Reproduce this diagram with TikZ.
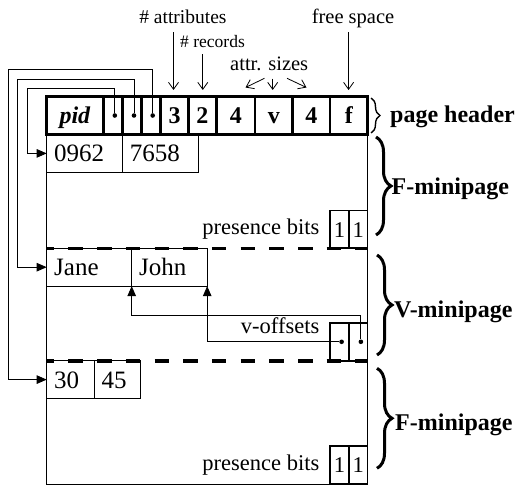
\documentclass[tikz,border=0pt]{standalone}
\usepackage{fontspec}
\setmainfont{Liberation Serif}
\usetikzlibrary{arrows.meta,decorations.pathreplacing}
\begin{document}
\begin{tikzpicture}[x=1pt,y=-1pt,
  box/.style={draw, inner sep=0pt, outer sep=0pt, anchor=north west},
  hcell/.style={box, line width=2.6pt, minimum height=38pt,
    font=\fontsize{24}{28}\selectfont\bfseries, text height=16pt, text depth=0pt},
  rec/.style={box, line width=0.9pt, minimum height=37.8pt, inner xsep=7.5pt,
    align=left, font=\fontsize{25}{30}\selectfont, text height=17pt, text depth=0pt},
  bitcell/.style={box, line width=1.7pt, minimum width=18.8pt, minimum height=37.8pt,
    font=\fontsize{22.5}{27}\selectfont, text height=15.5pt, text depth=0pt},
  dot/.style={circle, fill, inner sep=0pt, minimum size=4.6pt},
  note/.style={inner sep=0pt, font=\fontsize{22.5}{27}\selectfont, anchor=base east},
  toplbl/.style={inner sep=0pt, anchor=base},
  side/.style={inner sep=0pt, anchor=base west, font=\fontsize{24}{28}\selectfont\bfseries},
  ptr/.style={line width=0.9pt, -{Triangle[length=10pt,width=8.5pt]}},
  lblarrow/.style={line width=0.8pt, -{Straight Barb[length=7pt,width=10pt]}},
  dline/.style={line width=3.6pt, dash pattern=on 14.5pt off 14.2pt, dash phase=7pt},
  bigbrace/.style={decorate, decoration={brace, amplitude=15pt}, line width=3pt},
  smallbrace/.style={decorate, decoration={brace, amplitude=9pt}, line width=1.4pt}]
\useasboundingbox (0,0) rectangle (531,495);

% page body
\node[box, line width=0.9pt, minimum width=321pt, minimum height=349.5pt] (body) at (46.7,134.5) {};

% records
\node[rec, text width=60.6pt] (r0962) at (46.7,134.5) {0962};
\node[rec, text width=60.7pt] (r7658) at (122.3,134.5) {7658};
\node[rec, text width=70pt] (jane) at (46.7,248.3) {Jane};
\node[rec, text width=60.5pt] (john) at (131.7,248.3) {John};
\node[rec, text width=32.3pt] (r30) at (46.7,360.7) {30};
\node[rec, text width=31.7pt] (r45) at (94,360.7) {45};

% dashed separators
\draw[dline] (body.west |- jane.north) -- (body.east |- jane.north);
\draw[dline] (body.west |- r30.north) -- (body.east |- r30.north);

% page header
\node[hcell, minimum width=56.6pt] (pid) at (46.7,96.5) {\textit{pid}};
\node[hcell, minimum width=19.4pt] (p1) at (103.3,96.5) {};
\node[hcell, minimum width=19pt] (p2) at (122.7,96.5) {};
\node[hcell, minimum width=19pt] (p3) at (141.7,96.5) {};
\node[hcell, minimum width=27.6pt] (n3) at (160.7,96.5) {3};
\node[hcell, minimum width=28.2pt] (n2) at (188.3,96.5) {2};
\node[hcell, minimum width=38.5pt] (s4a) at (216.5,96.5) {4};
\node[hcell, minimum width=37.7pt] (sv) at (255,96.5) {v};
\node[hcell, minimum width=37.3pt] (s4b) at (292.7,96.5) {4};
\node[hcell, minimum width=37.5pt] (ff) at (330,96.5) {f};

\node[dot] (d1) at ([xshift=1.8pt]p1.center) {};
\node[dot] (d2) at ([xshift=1.8pt]p2.center) {};
\node[dot] (d3) at ([xshift=1.5pt]p3.center) {};

% presence bits and v-offsets
\node[bitcell] (pa1) at (330,210.5) {1};
\node[bitcell] (pa2) at (348.8,210.5) {1};
\node[note] (lpa) at (319.5,234) {presence bits};

\node[bitcell] (vo1) at (330,322.9) {};
\node[bitcell] (vo2) at (348.8,322.9) {};
\node[note] (lvo) at (319.5,333.5) {v-offsets};
\node[dot] (vd1) at ([xshift=2.2pt]vo1.center) {};
\node[dot] (vd2) at ([xshift=2.7pt]vo2.center) {};

\node[bitcell] (pb1) at (330,446.2) {1};
\node[bitcell] (pb2) at (348.8,446.2) {1};
\node[note] (lpb) at (319.5,470) {presence bits};

% header pointers
\coordinate (t1) at (27.7,88.3);
\coordinate (t2) at (17.3,79);
\coordinate (t3) at (8.3,69.3);
\draw[ptr] (d1) -- (d1 |- t1) -- (t1) |- (r0962.west);
\draw[ptr] (d2) -- (d2 |- t2) -- (t2) |- (jane.west);
\draw[ptr] (d3) -- (d3 |- t3) -- (t3) |- (r30.west);

% v-offset pointers
\coordinate (vA) at (0,315);
\draw[ptr] (vd2) -- (vd2 |- vA) -| (john.south west);
\draw[ptr] (vd1) -| (john.south east);

% top labels
\node[toplbl, font=\fontsize{19.5}{23}\selectfont] (lattr) at (182.9,23.7) {\# attributes};
\node[toplbl, font=\fontsize{17.5}{21}\selectfont] (lrec) at (212.5,47.4) {\# records};
\node[toplbl, font=\fontsize{20.5}{24}\selectfont] (lsize) at (269.2,71) {attr. sizes};
\node[toplbl, font=\fontsize{20.5}{24}\selectfont] (lfree) at (353,23.7) {free space};

\coordinate (aa) at (173.5,32.2);
\coordinate (ar) at (202.8,54.2);
\coordinate (af) at (348.6,32.2);
\coordinate (asm) at (272.7,78.6);
\coordinate (asl) at (264.5,78.3);
\coordinate (asr) at (287,78.3);
\coordinate (tipl) at (245.5,87.5);
\coordinate (tipr) at (306.5,87.5);
\draw[lblarrow] (aa) -- ([yshift=6.5pt]aa |- n3.north);
\draw[lblarrow] (ar) -- ([yshift=6.5pt]ar |- n2.north);
\draw[lblarrow] (af) -- ([yshift=6.5pt]af |- ff.north);
\draw[lblarrow] (asm) -- ([yshift=6.5pt]asm |- sv.north);
\draw[lblarrow] (asl) -- (tipl);
\draw[lblarrow] (asr) -- (tipr);

% braces and side labels
\draw[smallbrace] (371,98) -- (371,133);
\node[side] (lph) at (390,122.5) {page header};
\draw[bigbrace] (376,137) -- (376,235);
\node[side] (lf1) at (391.5,194.2) {F-minipage};
\draw[bigbrace] (377,255) -- (377,355);
\node[side] (lv) at (394,317.2) {V-minipage};
\draw[bigbrace] (377,368.3) -- (377,468.3);
\node[side] (lf2) at (395,430.6) {F-minipage};
\end{tikzpicture}
\end{document}
